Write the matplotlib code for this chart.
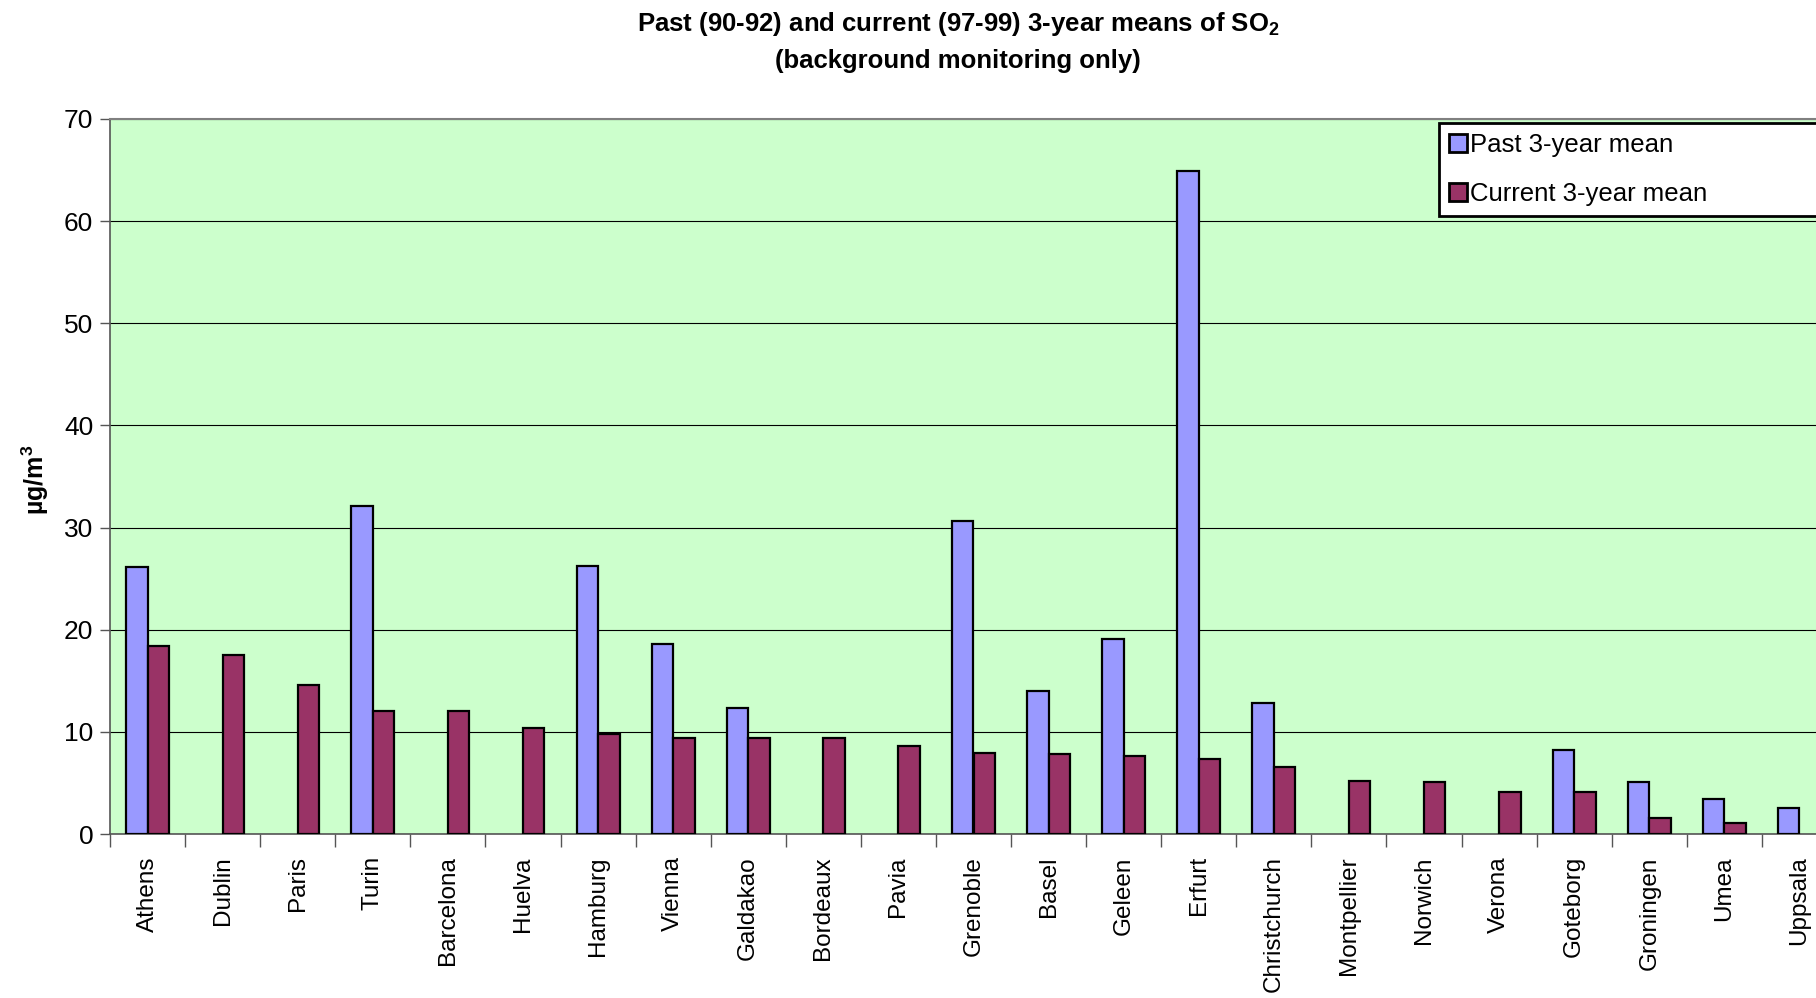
import numpy as np
import matplotlib
matplotlib.use("Agg")
import matplotlib.pyplot as plt

plt.rcParams['font.family'] = ['Liberation Sans', 'DejaVu Sans']
plt.rcParams['mathtext.fontset'] = 'custom'
plt.rcParams['mathtext.rm'] = 'Liberation Sans'
plt.rcParams['mathtext.bf'] = 'Liberation Sans:bold'
plt.rcParams['mathtext.default'] = 'bf'

cities = ['Athens', 'Dublin', 'Paris', 'Turin', 'Barcelona', 'Huelva', 'Hamburg',
          'Vienna', 'Galdakao', 'Bordeaux', 'Pavia', 'Grenoble', 'Basel', 'Geleen',
          'Erfurt', 'Christchurch', 'Montpellier', 'Norwich', 'Verona', 'Goteborg',
          'Groningen', 'Umea', 'Uppsala']
past_mean = [26.1, np.nan, np.nan, 32.1, np.nan, np.nan, 26.2,
             18.6, 12.3, np.nan, np.nan, 30.6, 14.0, 19.1,
             64.9, 12.8, np.nan, np.nan, np.nan, 8.2,
             5.1, 3.4, 2.5]
current_mean = [18.4, 17.5, 14.6, 12.0, 12.0, 10.4, 9.8,
                9.4, 9.4, 9.4, 8.6, 7.9, 7.8, 7.6,
                7.3, 6.6, 5.2, 5.1, 4.1, 4.1,
                1.6, 1.1, np.nan]
y_ticks = [0, 10, 20, 30, 40, 50, 60, 70]

W, H = 1816, 998
fig = plt.figure(figsize=(W / 100, H / 100), dpi=100)
# plot area runs a little past the right edge of the page
ax = fig.add_axes([110 / W, 1 - 834 / H, (1837 - 110) / W, (834 - 119) / H])
ax.set_facecolor('#CCFFCC')

x = np.arange(len(cities))
bw = 0.286
ax.bar(x - bw / 2, past_mean, bw, color='#9999FF', edgecolor='black',
       linewidth=1.6, label='Past 3-year mean', zorder=3)
ax.bar(x + bw / 2, current_mean, bw, color='#993366', edgecolor='black',
       linewidth=1.6, label='Current 3-year mean', zorder=3)

ax.set_xlim(-0.5, len(cities) - 0.5)
ax.set_ylim(0, 70)
ax.set_yticks(y_ticks)
ax.yaxis.grid(True, color='black', linewidth=0.8, zorder=1)
ax.tick_params(axis='y', labelsize=19, length=7, width=1, direction='out',
               pad=5, color='#555555')

ax.set_xticks(x)
ax.set_xticklabels(cities, rotation=90, fontsize=17.5, va='top')
ax.set_xticks(np.arange(len(cities) + 1) - 0.5, minor=True)
ax.tick_params(axis='x', which='major', length=0, pad=16)
ax.tick_params(axis='x', which='minor', length=9, width=1, direction='out',
               color='#555555')

for side in ['left', 'bottom']:
    ax.spines[side].set_color('#555555')
    ax.spines[side].set_linewidth(1.2)
ax.spines['top'].set_color('#808080')
ax.spines['top'].set_linewidth(1.5)
ax.spines['right'].set_visible(False)

fig.text(958 / W, 1 - 24 / H, r'Past (90-92) and current (97-99) 3-year means of SO$_{2}$',
         ha='center', va='center', fontsize=18.5, fontweight='bold')
fig.text(958 / W, 1 - 61 / H, '(background monitoring only)',
         ha='center', va='center', fontsize=18.5, fontweight='bold')
fig.text(35 / W, 1 - 480 / H, r'µg/m$^{3}$', rotation=90, ha='center', va='center',
         fontsize=18, fontweight='bold')

leg = fig.legend(loc='upper left', bbox_to_anchor=(1439 / W, 1 - 212 / H, 0.3, 89 / H),
                 mode='expand', fontsize=18.5, frameon=True, fancybox=False,
                 framealpha=1, edgecolor='black', handlelength=0.7,
                 handleheight=0.7, handletextpad=0.1, labelspacing=0.95,
                 borderpad=0.4, borderaxespad=0)
leg.get_frame().set_linewidth(2)
for h in leg.legend_handles:
    h.set_linewidth(2)

fig.savefig('out.png', dpi=100)
